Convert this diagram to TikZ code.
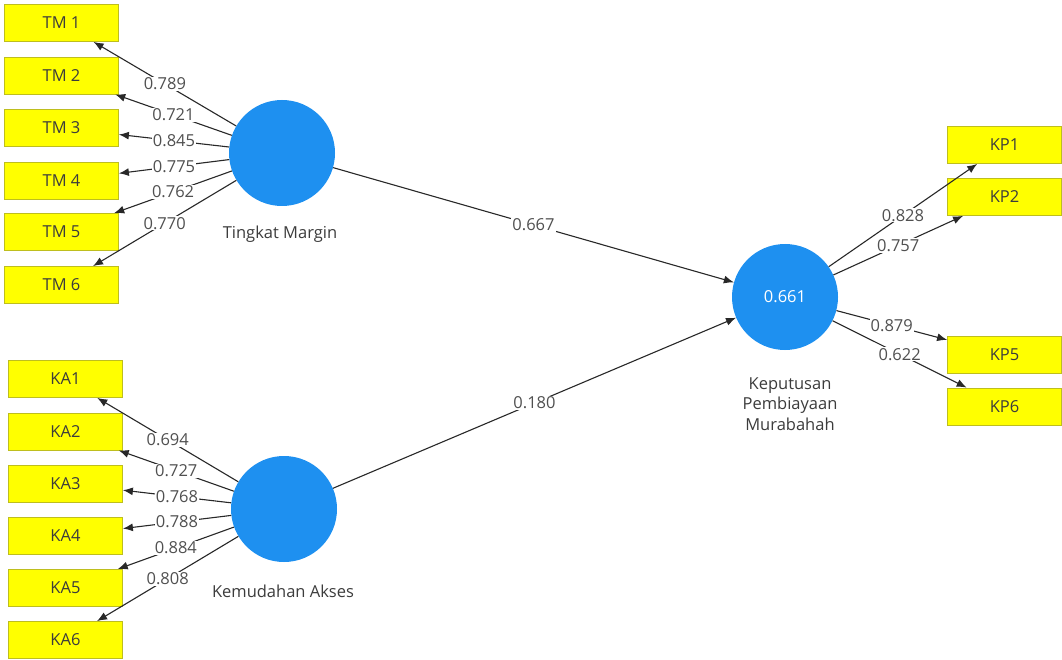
\documentclass[tikz,border=0pt]{standalone}
\usepackage{fontspec}
\setmainfont{Open Sans}
\usetikzlibrary{arrows.meta}
\definecolor{lvblue}{RGB}{30,144,240}
\definecolor{yfill}{RGB}{255,255,0}
\definecolor{yborder}{RGB}{190,190,30}
\definecolor{boxtext}{RGB}{60,60,60}
\definecolor{linecol}{RGB}{40,40,40}
\definecolor{lblcol}{RGB}{80,80,80}
\begin{document}
\begin{tikzpicture}[x=1pt,y=-1pt,
  font=\fontsize{16.5}{20.5}\selectfont,
  ind/.style={draw=yborder, line width=0.8pt, fill=yfill, minimum width=114pt, minimum height=37pt, inner sep=0pt, text=boxtext},
  lv/.style={circle, fill=lvblue, minimum size=106pt, inner sep=0pt, text=white},
  conn/.style={draw=linecol, line width=1.1pt, -{Latex[length=10pt,width=8pt]}},
  lbl/.style={fill=white, inner sep=1pt, text=lblcol},
  lvname/.style={text=boxtext, align=center, inner sep=0pt}]
\useasboundingbox[fill=white] (0,0) rectangle (1062,660);

% latent variables
\node[lv] (tm) at (282,153) {};
\node[lv] (ka) at (284,509) {};
\node[lv] (kp) at (785,297) {0.661};
\node[lvname] (tmname) at (280,234) {Tingkat Margin};
\node[lvname] (kaname) at (283,591) {Kemudahan Akses};
\node[lvname] (kpname) at (790,404) {Keputusan\\Pembiayaan\\Murabahah};

% indicators
\node[ind] (tm1) at (61.5,23) {TM 1};
\node[ind] (tm2) at (61.5,75.5) {TM 2};
\node[ind] (tm3) at (61.5,128) {TM 3};
\node[ind] (tm4) at (61.5,180.5) {TM 4};
\node[ind] (tm5) at (61.5,232) {TM 5};
\node[ind] (tm6) at (61.5,285) {TM 6};

\node[ind] (ka1) at (65.5,379) {KA1};
\node[ind] (ka2) at (65.5,431.5) {KA2};
\node[ind] (ka3) at (65.5,483.5) {KA3};
\node[ind] (ka4) at (65.5,535.5) {KA4};
\node[ind] (ka5) at (65.5,588) {KA5};
\node[ind] (ka6) at (65.5,640) {KA6};

\node[ind] (kp1) at (1004.5,145) {KP1};
\node[ind] (kp2) at (1004.5,197) {KP2};
\node[ind] (kp5) at (1004.5,355) {KP5};
\node[ind] (kp6) at (1004.5,406.5) {KP6};

% loadings
\draw[conn] (tm) -- node[lbl] {0.789} (tm1);
\draw[conn] (tm) -- node[lbl] {0.721} (tm2);
\draw[conn] (tm) -- node[lbl] {0.845} (tm3);
\draw[conn] (tm) -- node[lbl] {0.775} (tm4);
\draw[conn] (tm) -- node[lbl] {0.762} (tm5);
\draw[conn] (tm) -- node[lbl] {0.770} (tm6);

\draw[conn] (ka) -- node[lbl] {0.694} (ka1);
\draw[conn] (ka) -- node[lbl] {0.727} (ka2);
\draw[conn] (ka) -- node[lbl] {0.768} (ka3);
\draw[conn] (ka) -- node[lbl] {0.788} (ka4);
\draw[conn] (ka) -- node[lbl] {0.884} (ka5);
\draw[conn] (ka) -- node[lbl] {0.808} (ka6);

\draw[conn] (kp) -- node[lbl] {0.828} (kp1);
\draw[conn] (kp) -- node[lbl] {0.757} (kp2);
\draw[conn] (kp) -- node[lbl] {0.879} (kp5);
\draw[conn] (kp) -- node[lbl] {0.622} (kp6);

% paths
\draw[conn] (tm) -- node[lbl] {0.667} (kp);
\draw[conn] (ka) -- node[lbl] {0.180} (kp);
\end{tikzpicture}
\end{document}
